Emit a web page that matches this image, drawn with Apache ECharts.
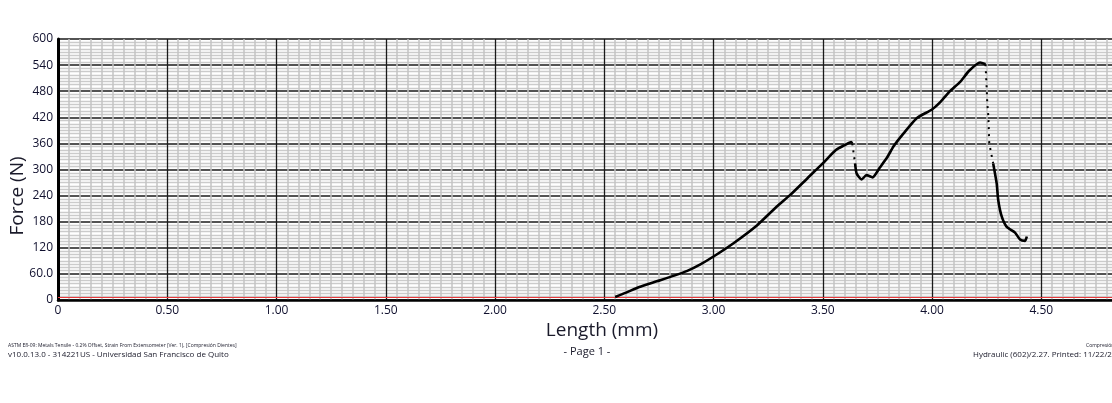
<!DOCTYPE html>
<html>
<head>
<meta charset="utf-8">
<script src="https://cdn.jsdelivr.net/npm/echarts@6/dist/echarts.min.js"></script>
<style>
html,body{margin:0;padding:0;background:#fff;overflow:hidden;width:1112px;height:403px;}
#c{width:1170px;height:403px;}
</style>
</head>
<body>
<div id="c"></div>
<script>
// ---- data ----
const lengthMm = [2.55,2.60,2.66,2.74,2.82,2.88,2.94,3.00,3.09,3.20,3.29,3.35,3.43,3.50,3.56,3.60,3.63,3.635,
  3.648,3.655,3.678,3.70,3.728,3.762,3.795,3.825,3.87,3.93,4.00,4.04,4.08,4.13,4.17,4.22,4.245,
  4.25,4.253,4.258,4.262,4.28,4.296,4.303,4.319,4.342,4.38,4.403,4.426,4.434];
const forceN = [7,17,30,43,56,67,82,100,130,172,215,241,280,314,345,356,363,360,
  314,291,277,287,282,305,328,354,383,418,438,456,479,502,527,546,542,
  490,452,421,360,314,268,230,192,168,155,139,136,146];
// index ranges drawn as sparse (dotted) points
const dottedRanges = [[17,18],[34,39]];
const solidRanges = [[0,17],[18,34],[39,47]];
const baselineForce = 6;

const footerLine1 = 'ASTM E8-09: Metals Tensile - 0.2% Offset, Strain From Extensometer (Ver. 1), [Compresión Dientes]';
const footerLine2 = 'v10.0.13.0 - 314221US - Universidad San Francisco de Quito';
const footerRight1 = 'Compresión Dientes';
const footerRight2 = 'Hydraulic (602)/2.27. Printed: 11/22/2016';

function seg(r){ const out=[]; for(let i=r[0];i<=r[1];i++) out.push([lengthMm[i],forceN[i]]); return out; }

const chart = echarts.init(document.getElementById('c'), null, {renderer:'canvas'});
const FONT = '"Open Sans", "DejaVu Sans", sans-serif';
const series = [];
solidRanges.forEach((r,k)=>series.push({
  type:'line', data:seg(r), symbol:'none', z:5, silent:true, smooth:0.2,
  lineStyle:{color:'#000', width:2.6},
  markLine: k===0 ? {silent:true, symbol:'none', label:{show:false},
    lineStyle:{color:'#e8393c', width:1, type:'solid'}, data:[{yAxis:baselineForce}]} : undefined
}));
dottedRanges.forEach(r=>series.push({
  type:'line', data:seg(r), symbol:'none', z:5, silent:true,
  lineStyle:{color:'#000', width:2, type:[2,5]}
}));

chart.setOption({
  animation:false,
  backgroundColor:'#fff',
  grid:{left:58, top:39, width:1092.5, height:261, containLabel:false},
  xAxis:{
    type:'value', min:0, max:5, interval:0.5,
    axisLine:{show:true, onZero:false, lineStyle:{color:'#000', width:2.5}},
    axisTick:{show:false},
    axisLabel:{color:'#10102e', fontFamily:FONT, fontSize:12, margin:5,
      formatter:v=> v===0 ? '0' : v.toFixed(2)},
    splitLine:{show:true, lineStyle:{color:'#1a1a1a', width:1.3}},
    minorTick:{show:false, splitNumber:10},
    minorSplitLine:{show:true, lineStyle:{color:'#c4c4c4', width:1.5}}
  },
  yAxis:{
    type:'value', min:0, max:600, interval:60,
    axisLine:{show:true, onZero:false, lineStyle:{color:'#000', width:3}},
    axisTick:{show:false},
    axisLabel:{color:'#10102e', fontFamily:FONT, fontSize:12, margin:5,
      formatter:v=> v===60 ? '60.0' : String(v)},
    splitLine:{show:true, lineStyle:{color:'#1a1a1a', width:1.5}},
    minorTick:{show:false, splitNumber:8},
    minorSplitLine:{show:true, lineStyle:{color:'#cbcbcb', width:1.3}}
  },
  series:series,
  graphic:[
    {type:'text', x:18, y:196, rotation:Math.PI/2, style:{text:'Force (N)', font:'19px '+FONT, fill:'#1a1a2a', textAlign:'center', textVerticalAlign:'middle'}},
    {type:'text', x:602, y:331, style:{text:'Length (mm)', font:'19px '+FONT, fill:'#1a1a2a', textAlign:'center', textVerticalAlign:'middle'}},
    {type:'text', x:587, y:352, style:{text:'- Page 1 -', font:'11px '+FONT, fill:'#1a1a2a', textAlign:'center', textVerticalAlign:'middle'}},
    {type:'text', x:8, y:346, style:{text:footerLine1, font:'5px '+FONT, fill:'#1a1a2a', textVerticalAlign:'middle'}},
    {type:'text', x:8, y:355, style:{text:footerLine2, font:'8px '+FONT, fill:'#1a1a2a', textVerticalAlign:'middle'}},
    {type:'text', x:1086, y:346, style:{text:footerRight1, font:'5px '+FONT, fill:'#1a1a2a', textVerticalAlign:'middle'}},
    {type:'text', x:973, y:355, style:{text:footerRight2, font:'8px '+FONT, fill:'#1a1a2a', textVerticalAlign:'middle'}}
  ]
});
</script>
</body>
</html>
